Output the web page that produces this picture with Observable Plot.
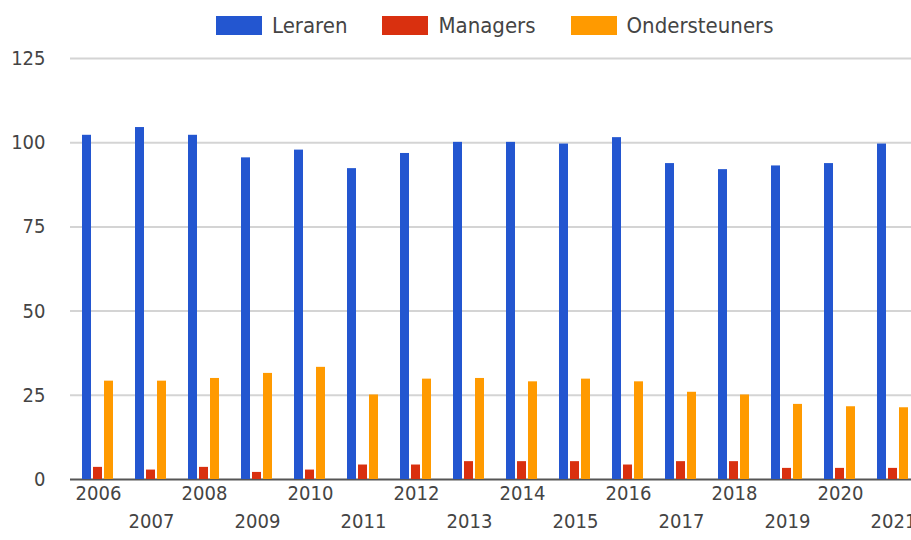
<!DOCTYPE html>
<html><head><meta charset="utf-8">
<script src="https://cdn.jsdelivr.net/npm/d3@7"></script>
<script src="https://cdn.jsdelivr.net/npm/@observablehq/plot@0.6"></script>
<style>
html,body{margin:0;padding:0;background:#fff;overflow:hidden;}
#chart{width:911px;height:540px;position:relative;}
div.lg-swatches{font-family:"DejaVu Sans Condensed","DejaVu Sans",sans-serif;font-size:22px;line-height:19px;color:#444;margin:0;padding:16px 0 0 216px;height:24px;min-height:0;align-items:flex-start;box-sizing:content-box;gap:0;column-gap:0;}
div.lg-swatches > *{margin-right:35px !important;margin-left:0 !important;align-items:center;height:19px;}
div.lg-swatches svg{margin-right:10px !important;}
#plotwrap{position:relative;width:911px;height:500px;}
#plotwrap > svg{position:absolute;left:0;top:0;}
</style>
</head><body><div id="chart"></div>
<script>
const years = ["2006","2007","2008","2009","2010","2011","2012","2013","2014","2015","2016","2017","2018","2019","2020","2021"];
const series = ["Leraren","Managers","Ondersteuners"];
const colors = ["#2356d0","#d9300f","#ff9a00"];
const leraren = [102.2,104.5,102.2,95.5,97.8,92.3,96.8,100.1,100.1,99.6,101.5,93.8,92.0,93.1,93.8,99.6];
const managers = [3.6,2.8,3.6,2.1,2.8,4.3,4.3,5.3,5.3,5.3,4.3,5.3,5.3,3.3,3.3,3.3];
const ondersteuners = [29.2,29.2,30.0,31.5,33.3,25.1,29.8,30.0,29.0,29.8,29.0,25.9,25.1,22.3,21.6,21.3];
const yTicks = [0,25,50,75,100,125];

const valuesBySeries = [leraren, managers, ondersteuners];
const table = [];
years.forEach((yr, i) => series.forEach((s, j) => table.push({year: yr, series: s, value: valuesBySeries[j][i]})));

const FONT = '"DejaVu Sans Condensed","DejaVu Sans",sans-serif';
const container = document.getElementById("chart");

const legend = Plot.legend({
  color: {domain: series, range: colors},
  legend: "swatches",
  swatchWidth: 46, swatchHeight: 19,
  className: "lg"
});
container.appendChild(legend);

const wrap = document.createElement("div");
wrap.id = "plotwrap";
container.appendChild(wrap);

const evenYears = years.filter((d, i) => i % 2 === 0);
const oddYears = years.filter((d, i) => i % 2 === 1);

const common = {
  width: 911, height: 500,
  marginTop: 18, marginBottom: 61, marginLeft: 70, marginRight: 0,
  y: {domain: [0, 125], axis: null, label: null}
};

// Background layer: gridlines, baseline and y tick labels
const back = Plot.plot({
  ...common,
  style: {fontFamily: FONT, fontSize: "20px", color: "#444", background: "#fff", overflow: "visible"},
  marks: [
    Plot.ruleY(yTicks.filter(d => d > 0), {stroke: "#d4d4d4", strokeWidth: 2}),
    Plot.text(yTicks, {y: d => d, text: d => String(d), frameAnchor: "left", dx: -25, textAnchor: "end", fontSize: 20, fill: "#444"}),
    Plot.ruleY([0], {stroke: "#555", strokeWidth: 2})
  ]
});
wrap.appendChild(back);

// Foreground layer: grouped bars and year labels
const front = Plot.plot({
  ...common,
  style: {fontFamily: FONT, fontSize: "20px", color: "#444", background: "transparent", overflow: "visible"},
  fx: {domain: years, range: [70, 921], paddingInner: 0.4, paddingOuter: 0.2, axis: null, label: null},
  x: {domain: series, paddingInner: 0.15, paddingOuter: 0, axis: null, label: null},
  color: {domain: series, range: colors},
  marks: [
    Plot.barY(table, {fx: "year", x: "series", y: "value", fill: "series"}),
    Plot.text(evenYears, {fx: d => d, text: d => d, frameAnchor: "bottom", dy: 20, fontSize: 20, fill: "#444"}),
    Plot.text(oddYears, {fx: d => d, text: d => d, frameAnchor: "bottom", dy: 48, fontSize: 20, fill: "#444"})
  ]
});
wrap.appendChild(front);
</script>
</body></html>
